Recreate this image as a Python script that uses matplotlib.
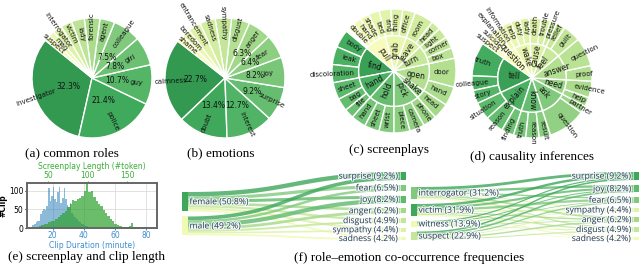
import numpy as np
import matplotlib.pyplot as plt
import matplotlib.patheffects as pe
from matplotlib.patches import Polygon, Rectangle

W, H = 640, 265

# (a) common roles, counterclockwise from the upper-left edge
role_names = ['investigator', 'police', 'guy', 'girl', 'colleague', 'agent', 'forensic',
              'lady', 'victim', 'interrogator', 'man', 'suspect']
role_pct = [32.3, 21.4, 10.7, 7.8, 7.5, 4.0, 4.2, 3.5, 3.0, 2.5, 1.6, 1.5]

# (b) emotions
emo_names = ['calmness', 'doubt', 'interest', 'surprise', 'joy', 'fear', 'anger', 'disgust',
             'sympathy', 'sadness', 'entrancement', 'boredom', 'shame']
emo_pct = [22.7, 13.4, 12.7, 9.2, 8.2, 6.4, 6.3, 4.9, 4.4, 4.2, 3.5, 2.2, 1.9]

# (c) screenplays: verbs (inner) and their objects (outer)
scr_verbs = ['find', 'hand', 'hold', 'pick', 'shake', 'open', 'turn', 'leave', 'grab', 'pull']
scr_nouns = [['body', 'leak', 'discoloration'], ['sheet', 'bag', 'file'], ['hand', 'sheet', 'wrist'],
             ['piece', 'camera', 'phone'], ['head'], ['hand', 'door'], ['box', 'corner', 'light'],
             ['head', 'room'], ['office', 'thing', 'ring'], ['bed', 'shade', 'hand', 'double', '', '']]
scr_counts = [[17, 17, 17], [16, 12, 9], [14, 14, 14], [15, 14, 13], [15], [18, 27], [10, 11, 10],
              [9, 18], [12, 11, 11], [10, 9, 8, 6, 1.5, 1.5]]

# (d) causality inferences
cau_verbs = ['tell', 'explain', 'know', 'ask', 'need', 'answer', 'feel', 'cause', 'wake', 'question']
cau_nouns = [['truth', 'colleague', 'story'], ['situation', 'reason', 'finding'],
             ['truth', 'reason', 'result'], ['question', 'partner'], ['help', 'evidence'],
             ['proof', 'question'], ['guilt', 'relief'], ['pressure', 'trouble', 'death'],
             ['lady', 'duty', 'help'], ['information', 'explanation', 'suicide', 'suspect']]
cau_counts = [[33, 14, 13], [17, 18, 12], [12, 13, 11], [37, 7], [9, 16], [15, 28], [17, 9],
              [6, 9, 12], [9, 9, 9], [7, 6, 6, 6]]

# (e) histograms
clip_minutes = list(range(6, 47))
clip_counts = [4, 8, 10, 15, 20, 18, 38, 45, 52, 48, 60, 108, 72, 85, 110, 78, 70, 95, 110, 68,
               80, 106, 78, 62, 55, 66, 40, 35, 30, 25, 20, 16, 12, 10, 8, 6, 5, 3, 2, 2, 1]
token_bins = list(range(29, 173, 3))
token_counts = [2, 3, 4, 6, 8, 10, 12, 15, 18, 20, 25, 30, 35, 40, 45, 55, 65, 75, 72, 78, 80, 85,
                100, 118, 95, 100, 82, 72, 65, 58, 48, 40, 32, 25, 18, 12, 9, 6, 4, 3, 3, 5, 14,
                4, 2, 2, 3, 1]

# (f) sankeys
gender_names = ['female', 'male']
gender_pct = [50.8, 49.2]
emo1_names = ['surprise', 'fear', 'joy', 'anger', 'disgust', 'sympathy', 'sadness']
emo1_pct = [9.2, 6.5, 8.2, 6.2, 4.9, 4.4, 4.2]
gender_flow = [[5.0, 3.6, 3.4, 3.0, 2.6, 2.5, 2.05],
               [4.2, 2.9, 4.8, 3.2, 2.3, 1.9, 2.15]]

rrole_names = ['interrogator', 'victim', 'witness', 'suspect']
rrole_pct = [31.2, 31.9, 13.9, 22.9]
emo2_names = ['surprise', 'joy', 'fear', 'sympathy', 'anger', 'disgust', 'sadness']
emo2_pct = [9.2, 8.2, 6.5, 4.4, 6.2, 4.9, 4.2]
role_flow = [[3.2, 2.6, 1.6, 1.2, 2.2, 1.6, 1.22],
             [2.8, 2.4, 2.6, 1.5, 1.6, 1.5, 1.52],
             [1.4, 1.2, 0.8, 0.7, 0.8, 0.6, 0.56],
             [1.8, 2.0, 1.5, 1.0, 1.6, 1.2, 0.9]]

cmap = plt.get_cmap('YlGn')
fig = plt.figure(figsize=(6.4, 2.65), dpi=100)


def seq_colors(n, hi=0.68, lo=0.13):
    return [cmap(hi - i * (hi - lo) / max(n - 1, 1)) for i in range(n)]


def rank_colors(vals, hi=0.64, lo=0.15):
    order = np.argsort(-np.asarray(vals), kind='stable')
    cols = [None] * len(vals)
    for rank, idx in enumerate(order):
        cols[idx] = cmap(hi - rank * (hi - lo) / max(len(vals) - 1, 1))
    return cols


def pie_ax(cx, cy, r, pad=1.8):
    ax = fig.add_axes([(cx - pad * r) / W, 1 - (cy + pad * r) / H, 2 * pad * r / W, 2 * pad * r / H])
    ax.axis('off')
    return ax, pad


def radial_text(ax, theta, r0, s, fs):
    th = theta % 360
    x, y = r0 * np.cos(np.radians(th)), r0 * np.sin(np.radians(th))
    if 90 < th < 270:
        rot, ha = th - 180, 'right'
    else:
        rot, ha = (th if th <= 90 else th - 360), 'left'
    ax.text(x, y, s, rotation=rot, rotation_mode='anchor', ha=ha, va='center', fontsize=fs,
            color='#111111')


def mid_angles(vals, start):
    v = np.asarray(vals, float)
    cum = np.cumsum(v) - v / 2
    return start + 360 * cum / v.sum()


def simple_pie(cx, cy, r, names, pct, start, pctdist):
    ax, pad = pie_ax(cx, cy, r)
    ax.pie(pct, startangle=start, counterclock=True, colors=seq_colors(len(pct)),
           wedgeprops=dict(edgecolor='white', linewidth=1.0))
    for th, s, p in zip(mid_angles(pct, start), names, pct):
        radial_text(ax, th, 0.63, s, 5)
        if p >= 6:
            ax.text(pctdist * np.cos(np.radians(th)), pctdist * np.sin(np.radians(th)), f'{p}%',
                    ha='center', va='center', fontsize=5.5, color='#111111')
    ax.set_xlim(-pad, pad)
    ax.set_ylim(-pad, pad)


def sunburst(cx, cy, r, verbs, nouns, counts, start, r_in=0.57, r_out_lab=0.64):
    ax, pad = pie_ax(cx, cy, r)
    outer = [c for grp in counts for c in grp]
    outer_lab = [s for grp in nouns for s in grp]
    inner = [sum(grp) for grp in counts]
    ax.pie(outer, radius=1, startangle=start, counterclock=True, colors=seq_colors(len(outer), 0.62, 0.1),
           wedgeprops=dict(width=1 - r_in, edgecolor='white', linewidth=1.0))
    ax.pie(inner, radius=r_in, startangle=start, counterclock=True, colors=seq_colors(len(inner), 0.66, 0.12),
           wedgeprops=dict(edgecolor='white', linewidth=1.0))
    for th, s in zip(mid_angles(outer, start), outer_lab):
        if s:
            radial_text(ax, th, r_out_lab, s, 5)
    for th, s in zip(mid_angles(inner, start), verbs):
        radial_text(ax, th, 0.2, s, 5.5)
    ax.set_xlim(-pad, pad)
    ax.set_ylim(-pad, pad)


# sankey layer (pixel coordinates)
axs = fig.add_axes([0, 0, 1, 1], zorder=-1)
axs.set_xlim(0, W)
axs.set_ylim(H, 0)
axs.axis('off')


def band(x0, x1, ys0, ys1, yt0, yt1):
    t = np.linspace(0, 1, 40)
    xm = (x0 + x1) / 2
    bx = (1 - t) ** 3 * x0 + 3 * (1 - t) ** 2 * t * xm + 3 * (1 - t) * t ** 2 * xm + t ** 3 * x1
    by = lambda a, b: (1 - t) ** 3 * a + 3 * (1 - t) ** 2 * t * a + 3 * (1 - t) * t ** 2 * b + t ** 3 * b
    top = np.column_stack([bx, by(ys0, yt0)])
    bot = np.column_stack([bx, by(ys1, yt1)])[::-1]
    return np.vstack([top, bot])


def sankey(lnames, lpct, rnames, rpct, flow, xl, xr, ltop, rtop, k=0.88, gap=5.0, nw=5.5):
    flow = np.asarray(flow)
    lh = flow.sum(axis=1) * k
    rh = flow.sum(axis=0) * k
    ly = ltop + np.concatenate([[0], np.cumsum(lh + gap)[:-1]])
    ry = rtop + np.concatenate([[0], np.cumsum(rh + gap)[:-1]])
    lcol = rank_colors(lpct)
    rcol = rank_colors(rpct)
    loff = ly.copy()
    roff = ry.copy()
    for i in range(flow.shape[0]):
        for j in range(flow.shape[1]):
            h = flow[i, j] * k
            poly = band(xl + nw, xr, loff[i], loff[i] + h, roff[j], roff[j] + h)
            axs.add_patch(Polygon(poly, closed=True, facecolor=rcol[j], alpha=0.8, lw=0))
            loff[i] += h
            roff[j] += h
    effects = [pe.withStroke(linewidth=1.6, foreground='white', alpha=0.8)]
    for i, (n, p) in enumerate(zip(lnames, lpct)):
        axs.add_patch(Rectangle((xl, ly[i]), nw, lh[i], facecolor=lcol[i], lw=0))
        axs.text(xl + nw + 2, ly[i] + lh[i] / 2, f'{n} ({p}%)', ha='left', va='center',
                 fontsize=6.2, family='Open Sans', color='#2a3f5f', path_effects=effects)
    for j, (n, p) in enumerate(zip(rnames, rpct)):
        axs.add_patch(Rectangle((xr, ry[j]), nw, rh[j], facecolor=rcol[j], lw=0))
        axs.text(xr - 2, ry[j] + rh[j] / 2, f'{n} ({p}%)', ha='right', va='center',
                 fontsize=6.2, family='Open Sans', color='#2a3f5f', path_effects=effects)


sankey(gender_names, gender_pct, emo1_names, emo1_pct, gender_flow, 182, 400.5, 192, 172)
sankey(rrole_names, rrole_pct, emo2_names, emo2_pct, role_flow, 411, 633.5, 187, 172)

simple_pie(92, 78, 60, role_names, role_pct, 141, 0.42)
simple_pie(225, 78, 60, emo_names, emo_pct, 142, 0.5)
sunburst(394, 71, 62, scr_verbs, scr_nouns, scr_counts, 140)
sunburst(532, 78, 60, cau_verbs, cau_nouns, cau_counts, 145, r_out_lab=0.72)

# (e) histogram
blue, green = '#3b8dd0', '#3aae3a'
axh = fig.add_axes([27 / W, 1 - 228 / H, 130 / W, 45 / H])
axh.bar(clip_minutes, clip_counts, width=1, align='edge', color='#1f77b4', alpha=0.5, lw=0)
axh.set_xlim(3.5, 87)
axh.set_ylim(0, 120)
axh.set_xticks([20, 40, 60, 80])
axh.set_yticks([0, 50, 100])
axh.grid(color='#dddddd', lw=0.6)
axh.set_axisbelow(True)
axh.tick_params(axis='x', colors=blue, labelsize=5.5, length=1.5, pad=1)
axh.tick_params(axis='y', labelsize=5.5, length=1.5, pad=1)
axh.set_xlabel('Clip Duration (minute)', color=blue, fontsize=5.5, labelpad=0.5)
axh.set_ylabel('#Clip', fontsize=5.5, fontweight='bold', labelpad=1)
axt = axh.twiny()
axt.bar(token_bins, token_counts, width=3, align='edge', color='#2ca02c', alpha=0.7, lw=0)
axt.set_xlim(23, 188)
axt.set_xticks([50, 100, 150])
axt.tick_params(axis='x', colors=green, labelsize=5.5, length=1.5, pad=1)
axt.set_xlabel('Screenplay Length (#token)', color=green, fontsize=5.5, labelpad=1)
for a in (axh, axt):
    for sp in a.spines.values():
        sp.set_color('#666666')
        sp.set_linewidth(1.2)

# captions
captions = [('(a) common roles', 72, 153), ('(b) emotions', 221, 153), ('(c) screenplays', 389, 150),
            ('(d) causality inferences', 532, 157), ('(e) screenplay and clip length', 86, 257),
            ('(f) role\u2013emotion co-occurrence frequencies', 409, 258)]
for s, x, y in captions:
    fig.text(x / W, 1 - y / H, s, ha='center', va='center', fontsize=9.5, family='Liberation Serif')

fig.savefig('out.png', dpi=100)
